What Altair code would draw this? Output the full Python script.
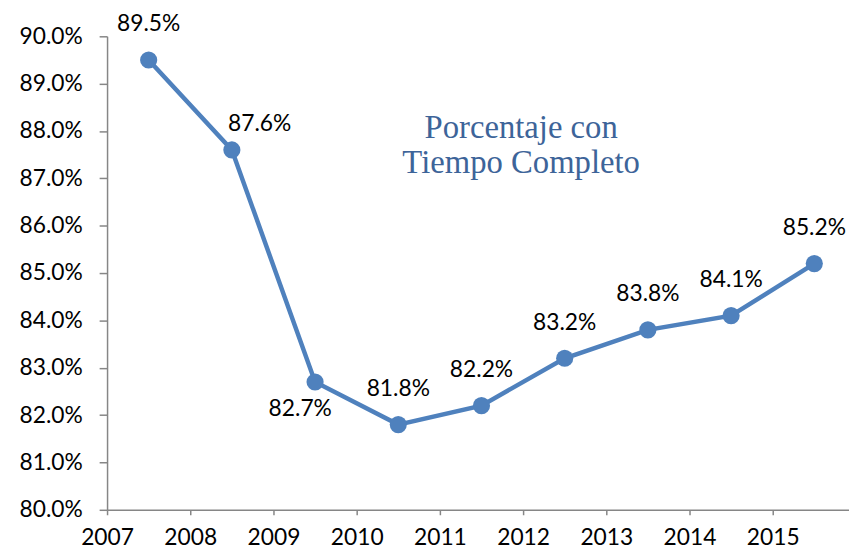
import altair as alt
import pandas as pd

years = [2007, 2008, 2009, 2010, 2011, 2012, 2013, 2014, 2015]
values = [0.895, 0.876, 0.827, 0.818, 0.822, 0.832, 0.838, 0.841, 0.852]
y_ticks = [round(0.80 + i * 0.01, 2) for i in range(11)]
title_lines = ["Porcentaje con", "Tiempo Completo"]

df = pd.DataFrame({"year": years, "value": values})

LINE = "#4F81BD"
AXIS_GRAY = "#868686"
FONT = "Lato"

base = alt.Chart(df).transform_calculate(xpos="datum.year + 0.5")

x_enc = alt.X(
    "xpos:Q",
    scale=alt.Scale(domain=[2007, 2015.917], nice=False, zero=False),
    axis=alt.Axis(
        values=years, format="d", title=None, grid=False, labelFlush=False,
        domainColor=AXIS_GRAY, tickColor=AXIS_GRAY, domainWidth=1.5, tickWidth=1.5,
        tickSize=5, labelPadding=12, labelFontSize=23, labelFont=FONT,
        labelColor="#000000", labelAngle=0, labelOverlap=False,
    ),
)
y_enc = alt.Y(
    "value:Q",
    scale=alt.Scale(domain=[0.80, 0.90], nice=False, zero=False),
    axis=alt.Axis(
        values=y_ticks, format=".1%", title=None, grid=False, labelFlush=False,
        domainColor=AXIS_GRAY, tickColor=AXIS_GRAY, domainWidth=1.5, tickWidth=1.5,
        tickSize=8, labelPadding=17, labelFontSize=23, labelFont=FONT,
        labelColor="#000000", labelOverlap=False,
    ),
)

line = base.mark_line(color=LINE, strokeWidth=4.5).encode(x=x_enc, y=y_enc)
pts = base.mark_point(filled=True, size=300, color=LINE, opacity=1).encode(x=x_enc, y=y_enc)

def labels(filt, dx, dy):
    return base.transform_filter(filt).mark_text(
        font=FONT, fontSize=23, color="#000000", dx=dx, dy=dy,
        align="center", baseline="middle",
    ).encode(x="xpos:Q", y="value:Q", text=alt.Text("value:Q", format=".1%"))

lab_above = labels("datum.year != 2008 && datum.year != 2009", 0, -36)
lab_2008 = labels("datum.year == 2008", 28, -26)
lab_2009 = labels("datum.year == 2009", -15, 27)

title_txt = alt.Chart(pd.DataFrame({"k": [0]})).mark_text(
    text=title_lines, font="Liberation Serif", fontSize=33, color="#3D6499",
    align="center", baseline="alphabetic", lineHeight=35,
).encode(x=alt.value(418), y=alt.value(103))

chart = alt.layer(line, pts, lab_above, lab_2008, lab_2009, title_txt).properties(
    width=749, height=478,
    padding={"left": 100, "top": 26, "right": 0, "bottom": 38},
    autosize=alt.AutoSizeParams(type="none"),
).configure_view(stroke=None)

chart.save("out.html", embed_options={"renderer": "svg", "actions": False})
